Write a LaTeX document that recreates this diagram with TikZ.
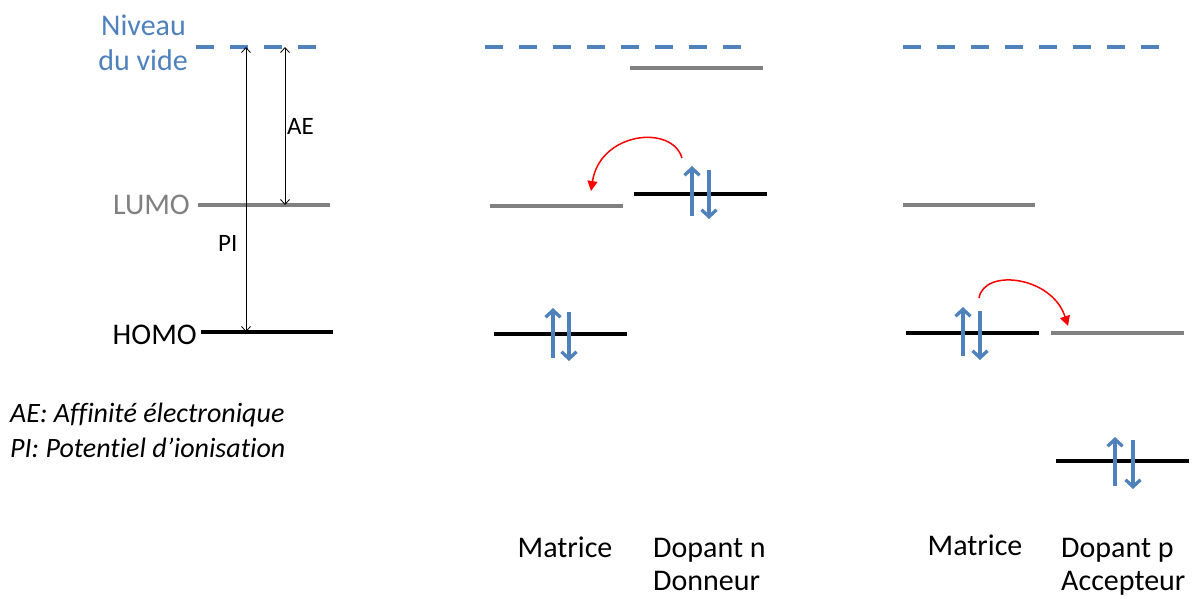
\documentclass[tikz,border=0pt]{standalone}
\usepackage{fontspec}
\setmainfont{Carlito}
\newfontfamily\nolig[Ligatures=CommonOff]{Carlito}
\usetikzlibrary{arrows.meta}
\definecolor{lblue}{RGB}{79,129,189}
\definecolor{lgray}{RGB}{128,128,128}
\begin{document}
\begin{tikzpicture}[x=1pt,y=-1pt,
 level/.style={line width=4pt},
 lumo/.style={level,draw=lgray},
 homo/.style={level,draw=black},
 vac/.style={line width=4pt,draw=lblue,dash pattern=on 18pt off 16pt},
 spin/.style={line width=3.3pt,draw=lblue,-{Straight Barb[length=7pt,width=15pt]}},
 dim/.style={line width=0.8pt,{Straight Barb[length=5pt,width=9pt]}-{Straight Barb[length=5pt,width=9pt]}},
 transfer/.style={line width=1.5pt,draw=red,-{Triangle[length=10pt,width=10pt]}},
 lbl/.style={inner sep=0pt,font=\fontsize{30}{36}\selectfont},
 small/.style={inner sep=0pt,font=\fontsize{25}{30}\selectfont},
 legend/.style={inner sep=0pt,font=\nolig\fontsize{28}{32}\selectfont\itshape}]
\useasboundingbox (0,0) rectangle (1201,598);

% ---------- left: definitions ----------
\coordinate (vacL1) at (196,47);  \coordinate (vacL2) at (318,47);
\coordinate (lumoL1) at (198,205); \coordinate (lumoL2) at (330,205);
\coordinate (homoL1) at (201,332); \coordinate (homoL2) at (333,332);
\draw[vac] (vacL1) -- (vacL2);
\draw[lumo] (lumoL1) -- (lumoL2);
\draw[homo] (homoL1) -- (homoL2);

\node[lbl,text=lblue,anchor=base east] (niv1) at (186,35) {Niveau};
\node[lbl,text=lblue,anchor=base east] (niv2) at (188,70) {du vide};
\node[lbl,text=lgray,anchor=base east] (tlumo) at (190,214) {LUMO};
\node[lbl,anchor=base east] (thomo) at (197,344) {HOMO};

\coordinate (piT) at (246,47); \coordinate (piB) at (246,332);
\coordinate (aeT) at (285,47); \coordinate (aeB) at (285,205);
\draw[dim] (piT) -- (piB);
\draw[dim] (aeT) -- (aeB);
\node[small,anchor=base west] (tae) at (287,134) {AE};
\node[small,anchor=base west] (tpi) at (218,251) {PI};

\node[legend,anchor=base west] (leg1) at (10,422) {AE: Affinité électronique};
\node[legend,anchor=base west] (leg2) at (10,457) {PI: Potentiel d’ionisation};

% ---------- middle: n doping ----------
\coordinate (vacM1) at (485,47); \coordinate (vacM2) at (744,47);
\draw[vac] (vacM1) -- (vacM2);
\coordinate (dnL1) at (630,68); \coordinate (dnL2) at (763,68);
\draw[lumo] (dnL1) -- (dnL2);
\coordinate (mLn1) at (490,206); \coordinate (mLn2) at (623,206);
\draw[lumo] (mLn1) -- (mLn2);
\coordinate (dnH1) at (634,194); \coordinate (dnH2) at (767,194);
\draw[homo] (dnH1) -- (dnH2);
\coordinate (mHn1) at (494,334); \coordinate (mHn2) at (627,334);
\draw[homo] (mHn1) -- (mHn2);

\coordinate (e1a) at (553,358); \coordinate (e1b) at (553,308);
\coordinate (e2a) at (569,312); \coordinate (e2b) at (569,361);
\draw[spin] (e1a) -- (e1b);
\draw[spin] (e2a) -- (e2b);
\coordinate (e3a) at (692,216); \coordinate (e3b) at (692,166);
\coordinate (e4a) at (709,170); \coordinate (e4b) at (709,219);
\draw[spin] (e3a) -- (e3b);
\draw[spin] (e4a) -- (e4b);

\coordinate (tnS) at (682,158); \coordinate (tnE) at (591,191);
\draw[transfer] (tnS) .. controls (672,124) and (600,132) .. (tnE);

\node[lbl,anchor=base] (mat1) at (565,557) {Matrice};
\node[lbl,anchor=base west] (dopn) at (653,557) {Dopant n};
\node[lbl,anchor=base west] (donn) at (653,590) {Donneur};

% ---------- right: p doping ----------
\coordinate (vacR1) at (903,47); \coordinate (vacR2) at (1163,47);
\draw[vac] (vacR1) -- (vacR2);
\coordinate (mLp1) at (903,205); \coordinate (mLp2) at (1035,205);
\draw[lumo] (mLp1) -- (mLp2);
\coordinate (mHp1) at (906,333); \coordinate (mHp2) at (1039,333);
\draw[homo] (mHp1) -- (mHp2);
\coordinate (apL1) at (1051,333); \coordinate (apL2) at (1184,333);
\draw[lumo] (apL1) -- (apL2);
\coordinate (apH1) at (1056,461); \coordinate (apH2) at (1189,461);
\draw[homo] (apH1) -- (apH2);

\coordinate (e5a) at (963,356); \coordinate (e5b) at (963,307);
\coordinate (e6a) at (980,311); \coordinate (e6b) at (980,360);
\draw[spin] (e5a) -- (e5b);
\draw[spin] (e6a) -- (e6b);
\coordinate (e7a) at (1115,486); \coordinate (e7b) at (1115,437);
\coordinate (e8a) at (1133,440); \coordinate (e8b) at (1133,489);
\draw[spin] (e7a) -- (e7b);
\draw[spin] (e8a) -- (e8b);

\coordinate (tpS) at (979,298); \coordinate (tpE) at (1068,326);
\draw[transfer] (tpS) .. controls (984,268) and (1052,276) .. (tpE);

\node[lbl,anchor=base] (mat2) at (975,555) {Matrice};
\node[lbl,anchor=base west] (dopp) at (1061,557) {Dopant p};
\node[lbl,anchor=base west] (acc) at (1061,590) {Accepteur};
\end{tikzpicture}
\end{document}
